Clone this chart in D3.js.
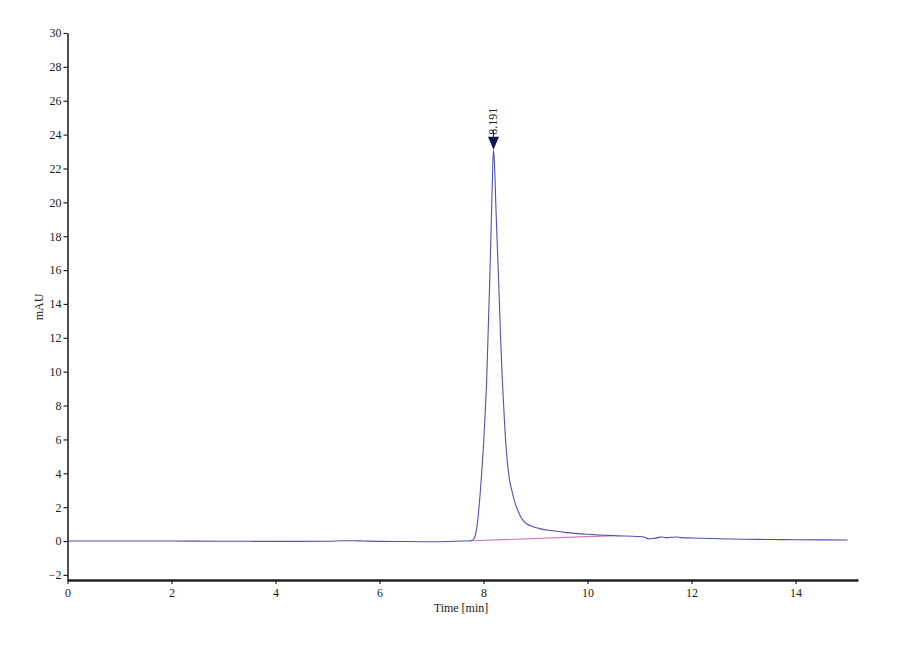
<!DOCTYPE html>
<html><head><meta charset="utf-8">
<script src="https://cdn.jsdelivr.net/npm/d3@7/dist/d3.min.js"></script>
<style>body{margin:0;background:#fff;} text{font-family:"Liberation Serif","Times New Roman",serif;}</style>
</head><body><svg id="c" width="900" height="660"></svg>
<script>
// Chromatogram data (time in min, signal in mAU)
const times = [0,1,2,3,4,5,5.3,5.5,5.7,6,6.5,7,7.3,7.6,7.7,7.78,7.82,7.85,7.88,7.91,7.94,7.97,8.00,8.03,8.06,8.09,8.12,8.15,8.17,8.19,8.21,8.24,8.27,8.30,8.33,8.36,8.39,8.42,8.46,8.50,8.55,8.60,8.66,8.72,8.78,8.85,8.95,9.1,9.3,9.6,10.0,10.5,11.0,11.1,11.17,11.25,11.35,11.42,11.5,11.6,11.7,11.8,12.0,12.5,13.0,13.5,14.0,15.0];
const signal = [0,0,0,-0.01,-0.02,-0.01,0.02,0.02,0.0,-0.02,-0.03,-0.04,-0.03,0.0,0.0,0.03,0.15,0.45,1.0,1.9,3.0,4.3,5.7,7.5,9.5,12.5,15.5,19.0,21.3,23.1,22.3,19.5,17.0,14.5,11.8,9.6,7.8,6.1,4.6,3.6,2.9,2.3,1.8,1.4,1.15,0.98,0.85,0.72,0.62,0.5,0.4,0.32,0.27,0.22,0.13,0.15,0.2,0.24,0.2,0.22,0.24,0.2,0.18,0.14,0.11,0.09,0.08,0.06];
const baselineT = [7.80, 10.5];
const baselineV = [0.02, 0.32];
const peakTime = 8.191;
const peakHeight = 23.1;
const peakLabel = "8.191";
const xTicks = [0,2,4,6,8,10,12,14];
const yTicks = [-2,0,2,4,6,8,10,12,14,16,18,20,22,24,26,28,30];

const svg = d3.select("#c");
const x = d3.scaleLinear().domain([0, 15.2]).range([67.5, 858]);
const y = d3.scaleLinear().domain([-2.3, 30]).range([580, 33]);

// axes
const xAxis = d3.axisBottom(x).tickValues(xTicks).tickSize(4).tickPadding(4).tickSizeOuter(0);
const gx = svg.append("g").attr("transform", `translate(0,${y(-2.3)})`).call(xAxis);
gx.select(".domain").attr("stroke", "#222").attr("stroke-width", 2.5);
gx.selectAll(".tick line").attr("stroke", "#222").attr("stroke-width", 1.2);
gx.selectAll("text").attr("font-size", 12).attr("fill", "#222").attr("font-family", "Liberation Serif");

const yAxis = d3.axisLeft(y).tickValues(yTicks).tickSize(4).tickPadding(2).tickSizeOuter(0);
const gy = svg.append("g").attr("transform", `translate(${x(0)},0)`).call(yAxis);
gy.select(".domain").attr("stroke", "#222").attr("stroke-width", 1.6);
gy.selectAll(".tick line").attr("stroke", "#222").attr("stroke-width", 1.2);
gy.selectAll("text").attr("font-size", 12).attr("fill", "#222").attr("font-family", "Liberation Serif");

// labels
svg.append("text").attr("x", 461).attr("y", 612).attr("text-anchor", "middle")
  .attr("font-size", 12).attr("fill", "#222").text("Time [min]");
svg.append("text").attr("transform", `translate(43,307) rotate(-90)`).attr("text-anchor", "middle")
  .attr("font-size", 12).attr("fill", "#222").text("mAU");

// baseline (integration)
svg.append("path").datum(baselineT.map((t,i)=>[t, baselineV[i]]))
  .attr("fill", "none").attr("stroke", "#d070c0").attr("stroke-width", 1.1)
  .attr("d", d3.line().x(d=>x(d[0])).y(d=>y(d[1])));

// trace
const data = times.map((t,i)=>[t, signal[i]]);
svg.append("path").datum(data)
  .attr("fill", "none").attr("stroke", "#5050b0").attr("stroke-width", 1.1)
  .attr("d", d3.line().x(d=>x(d[0])).y(d=>y(d[1])).curve(d3.curveMonotoneX));

// peak marker
const px = x(peakTime), py = y(peakHeight);
svg.append("path").attr("d", `M${px-5.5},${py-13}L${px+5.5},${py-13}L${px},${py}Z`).attr("fill", "#151550");
svg.append("line").attr("x1", px).attr("x2", px).attr("y1", py-19).attr("y2", py-13).attr("stroke", "#151550").attr("stroke-width", 1);
svg.append("text").attr("transform", `translate(${px+4},${py-15}) rotate(-90)`)
  .attr("text-anchor", "start").attr("font-size", 12).attr("fill", "#222").text(peakLabel);
</script></body></html>
